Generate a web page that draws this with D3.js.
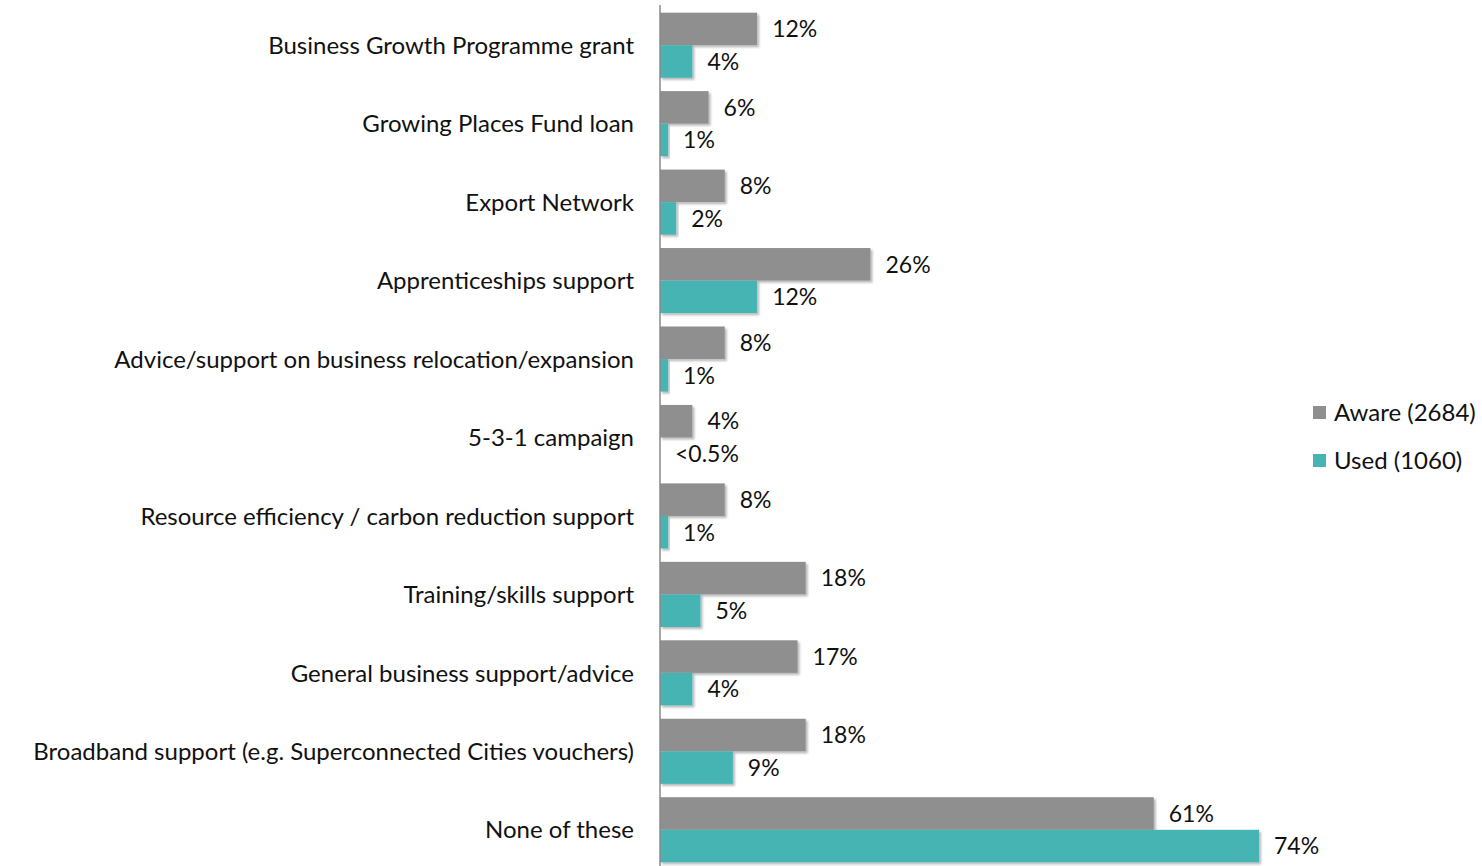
<!DOCTYPE html>
<html>
<head>
<meta charset="utf-8">
<script src="https://cdn.jsdelivr.net/npm/d3@7"></script>
<style>
  html, body { margin: 0; padding: 0; background: #fff; }
  svg { display: block; }
  text { font-family: Lato, "Open Sans", sans-serif; fill: #111; }
</style>
</head>
<body>
<svg id="chart" width="1482" height="866"></svg>
<script>
// Awareness and use of support schemes (% of businesses)
const categories = [
  "Business Growth Programme grant",
  "Growing Places Fund loan",
  "Export Network",
  "Apprenticeships support",
  "Advice/support on business relocation/expansion",
  "5-3-1 campaign",
  "Resource efficiency / carbon reduction support",
  "Training/skills support",
  "General business support/advice",
  "Broadband support (e.g. Superconnected Cities vouchers)",
  "None of these"
];
const seriesNames = ["Aware (2684)", "Used (1060)"];
const awareValues = [12, 6, 8, 26, 8, 4, 8, 18, 17, 18, 61];
const usedValues  = [4, 1, 2, 12, 1, 0, 1, 5, 4, 9, 74];
const usedLabels  = ["4%", "1%", "2%", "12%", "1%", "<0.5%", "1%", "5%", "4%", "9%", "74%"];

const colors = ["#8e8f8e", "#47b4b4"];

const svg = d3.select("#chart");
const width = 1482, height = 866;
const axisX = 660;

// drop shadow under bars
const defs = svg.append("defs");
const f = defs.append("filter").attr("id", "shadow")
  .attr("x", "-5%").attr("y", "-20%").attr("width", "120%").attr("height", "160%");
f.append("feDropShadow").attr("dx", 2).attr("dy", 2).attr("stdDeviation", 1.2)
  .attr("flood-color", "#000").attr("flood-opacity", 0.28);

const y = d3.scaleBand().domain(categories).range([6, 869])
  .paddingInner(0.17).paddingOuter(0.085);
const ySub = d3.scaleBand().domain([0, 1]).range([0, y.bandwidth()]);
const x = d3.scaleLinear().domain([0, 100]).range([axisX, axisX + 809.5]);

const rows = categories.map((c, i) => ({
  cat: c,
  vals: [
    { s: 0, v: awareValues[i], label: awareValues[i] + "%" },
    { s: 1, v: usedValues[i], label: usedLabels[i] }
  ]
}));

const g = svg.append("g");
const row = g.selectAll("g.row").data(rows).join("g")
  .attr("class", "row")
  .attr("transform", d => `translate(0,${y(d.cat)})`);

row.selectAll("rect").data(d => d.vals.filter(v => v.v > 0)).join("rect")
  .attr("x", x(0))
  .attr("y", d => ySub(d.s))
  .attr("width", d => x(d.v) - x(0))
  .attr("height", ySub.bandwidth())
  .attr("fill", d => colors[d.s])
  .attr("filter", "url(#shadow)");

row.selectAll("text.val").data(d => d.vals).join("text")
  .attr("class", "val")
  .attr("x", d => x(d.v) + 15)
  .attr("y", d => ySub(d.s) + ySub.bandwidth() / 2)
  .attr("dy", "0.36em")
  .attr("font-size", 23)
  .text(d => d.label);

// category axis
const yAxis = d3.axisLeft(y).tickSize(0).tickPadding(26);
const ag = svg.append("g").attr("transform", `translate(${axisX},0)`).call(yAxis);
ag.select(".domain").remove();
ag.selectAll("text").attr("font-size", 24).attr("font-family", "Lato, 'Open Sans', sans-serif")
  .attr("fill", "#111").attr("dy", "0.36em");

svg.append("line")
  .attr("x1", axisX).attr("x2", axisX)
  .attr("y1", 5).attr("y2", height)
  .attr("stroke", "#8a8a8a").attr("stroke-width", 1.5);

// legend
const legend = svg.append("g").attr("transform", "translate(1313,406)");
const li = legend.selectAll("g").data(seriesNames).join("g")
  .attr("transform", (d, i) => `translate(0,${i * 48})`);
li.append("rect").attr("width", 13).attr("height", 13).attr("fill", (d, i) => colors[i]);
li.append("text").attr("x", 21).attr("y", 6.5).attr("dy", "0.36em")
  .attr("font-size", 24).text(d => d);
</script>
</body>
</html>
